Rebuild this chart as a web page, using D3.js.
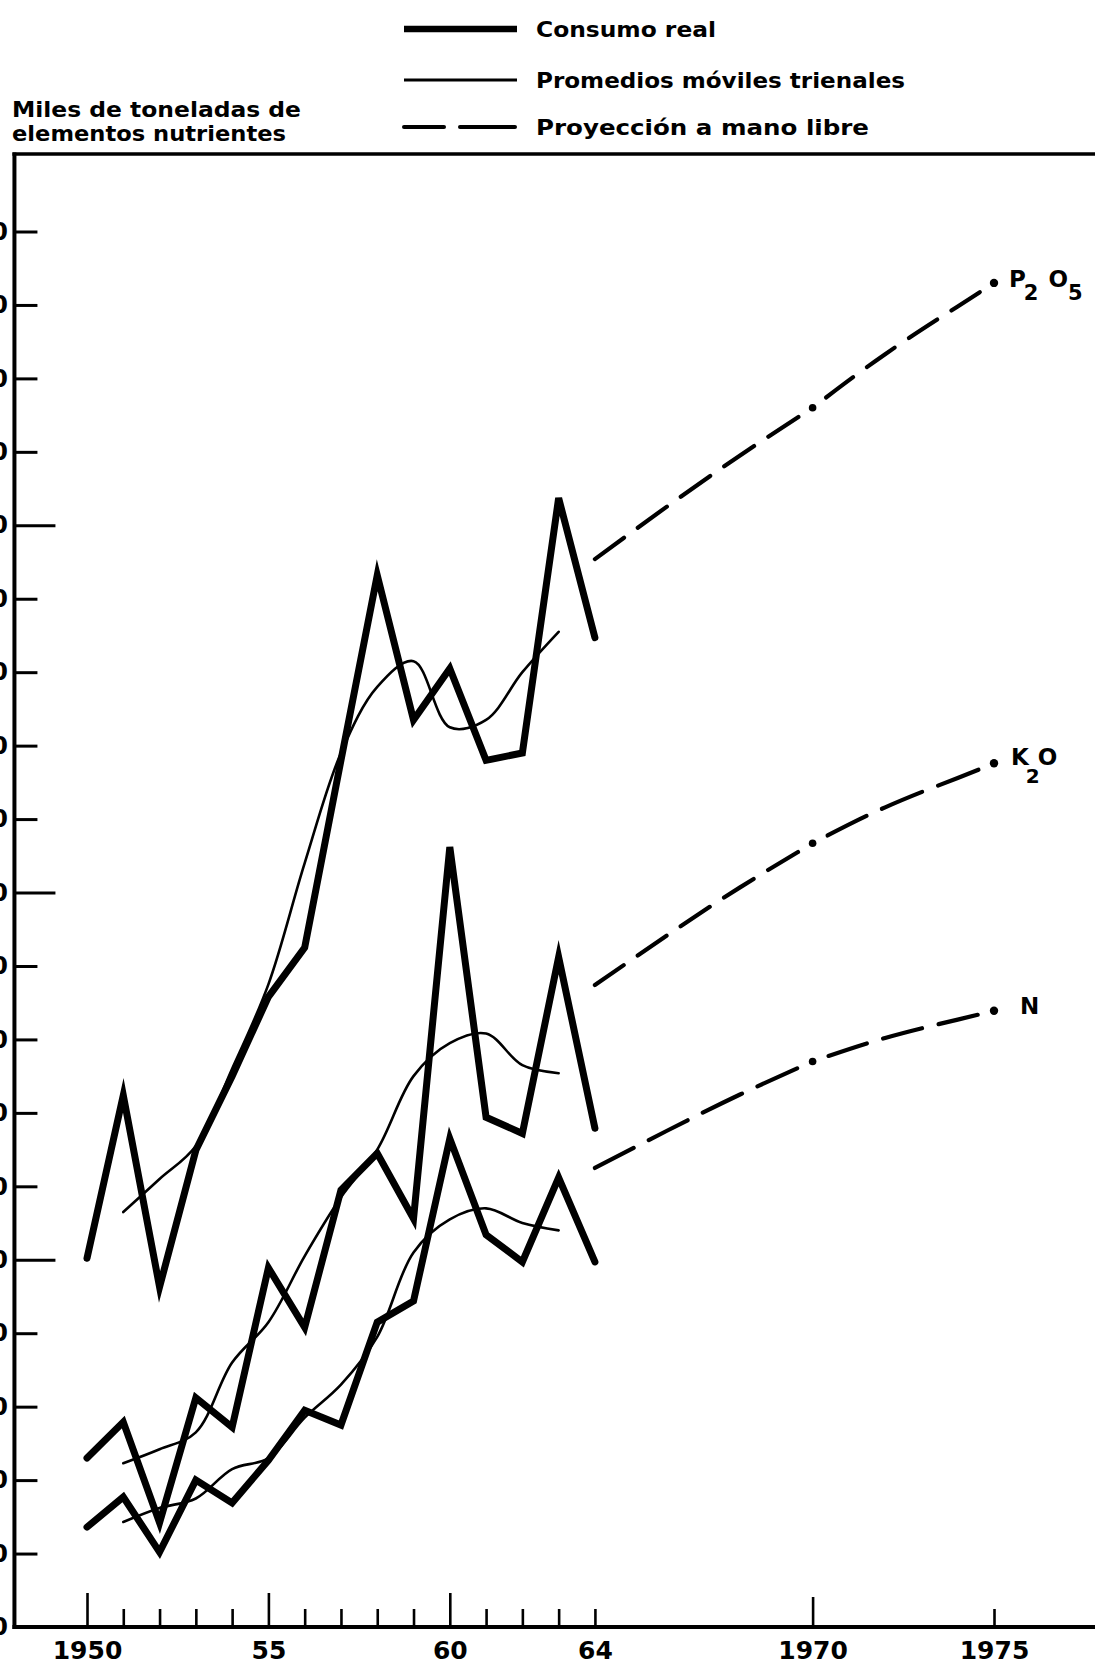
<!DOCTYPE html>
<html>
<head>
<meta charset="utf-8">
<script src="https://cdn.jsdelivr.net/npm/d3@7/dist/d3.min.js"></script>
<style>
  html, body { margin: 0; padding: 0; background: #fff; }
  svg { display: block; }
  text { font-family: "DejaVu Sans", "Liberation Sans", sans-serif; font-weight: bold; fill: #000; }
</style>
</head>
<body>
<svg id="chart" width="1095" height="1665"></svg>
<script>
// ---------------- data ----------------
const years = [1950, 1951, 1952, 1953, 1954, 1955, 1956, 1957, 1958, 1959, 1960, 1961, 1962, 1963, 1964];
const p2o5Real = [50.2, 72.4, 46.3, 64.9, 75.0, 85.8, 92.5, 118.0, 143.2, 123.5, 130.5, 118.0, 119.0, 153.7, 134.7];
const k2oReal  = [23.0, 27.9, 14.2, 31.2, 27.2, 48.9, 40.8, 59.5, 64.5, 55.6, 106.2, 69.4, 67.2, 91.2, 67.9];
const nReal    = [13.6, 17.7, 10.2, 20.0, 16.9, 22.7, 29.5, 27.5, 41.5, 44.4, 66.5, 53.4, 49.7, 61.2, 49.7];

const avgYears = [1951, 1952, 1953, 1954, 1955, 1956, 1957, 1958, 1959, 1960, 1961, 1962, 1963];
const p2o5Avg = [56.5, 61.0, 65.5, 76.0, 87.5, 104.0, 119.0, 128.0, 131.5, 122.5, 123.5, 130.0, 135.5];
const k2oAvg  = [22.3, 24.2, 26.5, 36.0, 41.5, 50.5, 58.5, 65.0, 75.0, 79.5, 80.8, 76.5, 75.4];
const nAvg    = [14.3, 16.2, 17.5, 21.5, 23.0, 28.5, 33.0, 39.5, 51.0, 55.5, 57.0, 55.0, 54.0];

const projYears = [1964, 1966, 1968, 1970, 1972, 1974, 1975];
const p2o5Proj = [145.4, 152.6, 159.5, 166.0, 173.3, 179.8, 183.0];
const k2oProj  = [87.4, 94.2, 100.7, 106.7, 111.6, 115.6, 117.6];
const nProj    = [62.5, 67.6, 72.5, 77.0, 80.2, 82.7, 83.9];
const projMarkYears = [1970, 1975];

const yTickValues = [0, 10, 20, 30, 40, 50, 60, 70, 80, 90, 100, 110, 120, 130, 140, 150, 160, 170, 180, 190];
const yMajorTicks = [50, 100, 150];
const xTickYears = [1950, 1951, 1952, 1953, 1954, 1955, 1956, 1957, 1958, 1959, 1960, 1961, 1962, 1963, 1964, 1970, 1975];
const xMajorTicks = [1950, 1955, 1960, 1970];
const xLabelYears = [1950, 1955, 1960, 1964, 1970, 1975];
const xLabels = ["1950", "55", "60", "64", "1970", "1975"];

const legendLabels = ["Consumo real", "Promedios móviles trienales", "Proyección a mano libre"];
const axisTitle = ["Miles de toneladas de", "elementos nutrientes"];

// ---------------- scales ----------------
const svg = d3.select("#chart");
const x = d3.scaleLinear().domain([1950, 1975]).range([87, 994]);
const y = d3.scaleLinear().domain([0, 190]).range([1627, 231.5]);
const xLeft = x(1948), xRight = 1095;
const yBottom = y(0), yTop = y(200) - 4;

// ---------------- frame ----------------
svg.append("line").attr("x1", xLeft).attr("x2", xLeft).attr("y1", yTop - 1.5).attr("y2", yBottom + 2)
  .attr("stroke", "#000").attr("stroke-width", 4);
svg.append("line").attr("x1", xLeft - 2).attr("x2", xRight).attr("y1", yBottom).attr("y2", yBottom)
  .attr("stroke", "#000").attr("stroke-width", 4);
svg.append("line").attr("x1", xLeft - 2).attr("x2", xRight).attr("y1", yTop).attr("y2", yTop)
  .attr("stroke", "#000").attr("stroke-width", 3.5);

// ---------------- y axis (labels partly beyond the left edge, as in the source) ----------------
const yAxis = svg.append("g").attr("transform", `translate(${xLeft},0)`)
  .call(d3.axisLeft(y).tickValues(yTickValues).tickSizeInner(-23).tickSizeOuter(0).tickPadding(6.5));
yAxis.select(".domain").remove();
yAxis.selectAll(".tick line").attr("stroke", "#000").attr("stroke-width", 3)
  .attr("x2", d => yMajorTicks.includes(d) ? 41 : 23);
yAxis.selectAll(".tick text").style("font-size", "24px").style("font-family", "DejaVu Sans, sans-serif")
  .style("font-weight", "bold");

// ---------------- x axis ----------------
const xAxis = svg.append("g").attr("transform", `translate(0,${yBottom})`)
  .call(d3.axisBottom(x).tickValues(xTickYears).tickSizeInner(-18).tickSizeOuter(0).tickFormat(""));
xAxis.select(".domain").remove();
xAxis.selectAll(".tick line").attr("stroke", "#000").attr("stroke-width", 2.6)
  .attr("y2", d => d === 1970 ? -30 : (xMajorTicks.includes(d) ? -34 : -18));

const xLab = svg.append("g").attr("transform", `translate(0,${yBottom})`)
  .call(d3.axisBottom(x).tickValues(xLabelYears).tickFormat((d, i) => xLabels[i]).tickSize(0).tickPadding(14));
xLab.select(".domain").remove();
xLab.selectAll(".tick text").style("font-size", "25px").style("font-family", "DejaVu Sans, sans-serif")
  .style("font-weight", "bold");

// ---------------- series ----------------
const series = [
  { real: p2o5Real, avg: p2o5Avg, proj: p2o5Proj },
  { real: k2oReal,  avg: k2oAvg,  proj: k2oProj },
  { real: nReal,    avg: nAvg,    proj: nProj }
];

const realLine = d3.line().x((d, i) => x(years[i])).y(d => y(d)).curve(d3.curveLinear);
const avgLine = d3.line().x((d, i) => x(avgYears[i])).y(d => y(d)).curve(d3.curveCatmullRom.alpha(0.5));
const projLine = d3.line().x(d => x(d[0])).y(d => y(d[1])).curve(d3.curveNatural);

const DASH = 37, GAP = 17;
function dashSegment(path, startWithGap) {
  const L = path.node().getTotalLength();
  if (!startWithGap) {
    const n = Math.max(1, Math.round(L / (DASH + GAP)));
    const d = L / n - GAP;
    path.attr("stroke-dasharray", `${d} ${GAP}`).attr("stroke-dashoffset", 0);
  } else {
    const n = Math.max(1, Math.round((L - GAP) / (DASH + GAP)));
    const d = (L - (n + 1) * GAP) / n;
    path.attr("stroke-dasharray", `${d} ${GAP}`).attr("stroke-dashoffset", d);
  }
}

series.forEach(s => {
  svg.append("path").attr("d", avgLine(s.avg)).attr("fill", "none")
    .attr("stroke", "#000").attr("stroke-width", 2.6).attr("stroke-linecap", "round");
  svg.append("path").attr("d", realLine(s.real)).attr("fill", "none")
    .attr("stroke", "#000").attr("stroke-width", 7).attr("stroke-linejoin", "miter")
    .attr("stroke-miterlimit", 5).attr("stroke-linecap", "round");

  const pts = projYears.map((yr, i) => [yr, s.proj[i]]);
  const split = projYears.indexOf(projMarkYears[0]);
  const seg1 = pts.slice(0, split + 1);
  const seg2 = pts.slice(split);
  const p1 = svg.append("path").attr("d", projLine(seg1)).attr("fill", "none")
    .attr("stroke", "#000").attr("stroke-width", 4.2).attr("stroke-linecap", "round");
  dashSegment(p1, false);
  const p2 = svg.append("path").attr("d", projLine(seg2)).attr("fill", "none")
    .attr("stroke", "#000").attr("stroke-width", 4.2).attr("stroke-linecap", "round");
  dashSegment(p2, true);

  svg.selectAll(null).data(projMarkYears).enter().append("circle")
    .attr("cx", d => x(d))
    .attr("cy", d => y(s.proj[projYears.indexOf(d)]))
    .attr("r", d => d === 1975 ? 4.2 : 3.8)
    .attr("fill", "#000");
});

// ---------------- series labels ----------------
const lblP = svg.append("text").attr("x", 1009).attr("y", 287).style("font-size", "23px");
lblP.append("tspan").text("P");
lblP.append("tspan").attr("dy", 13).attr("dx", -2).style("font-size", "21px").text("2");
lblP.append("tspan").attr("dy", -13).attr("dx", 10).text("O");
lblP.append("tspan").attr("dy", 13).attr("dx", 0).style("font-size", "21px").text("5");

const lblK = svg.append("text").attr("x", 1011).attr("y", 765).style("font-size", "23px");
lblK.append("tspan").text("K");
lblK.append("tspan").attr("dy", 18).attr("dx", -3).style("font-size", "20px").text("2");
lblK.append("tspan").attr("dy", -18).attr("dx", -2).text("O");

svg.append("text").attr("x", 1020).attr("y", 1014).style("font-size", "23px").text("N");

// ---------------- legend ----------------
const legendY = [29, 80, 127];
const legendBase = [37, 88, 135];
const legendW = [180, 369, 333];
svg.append("line").attr("x1", 404).attr("x2", 517).attr("y1", legendY[0]).attr("y2", legendY[0])
  .attr("stroke", "#000").attr("stroke-width", 6.5);
svg.append("line").attr("x1", 404).attr("x2", 517).attr("y1", legendY[1]).attr("y2", legendY[1])
  .attr("stroke", "#000").attr("stroke-width", 3.2);
svg.append("line").attr("x1", 404).attr("x2", 444).attr("y1", legendY[2]).attr("y2", legendY[2])
  .attr("stroke", "#000").attr("stroke-width", 4).attr("stroke-linecap", "round");
svg.append("line").attr("x1", 460).attr("x2", 515).attr("y1", legendY[2]).attr("y2", legendY[2])
  .attr("stroke", "#000").attr("stroke-width", 4).attr("stroke-linecap", "round");
legendLabels.forEach((t, i) => {
  svg.append("text").attr("x", 536).attr("y", legendBase[i]).style("font-size", "21px")
    .attr("textLength", legendW[i]).attr("lengthAdjust", "spacingAndGlyphs").text(t);
});

// ---------------- axis title ----------------
const titleBase = [117, 141];
const titleW = [289, 274];
axisTitle.forEach((t, i) => {
  svg.append("text").attr("x", 12).attr("y", titleBase[i]).style("font-size", "22px")
    .attr("textLength", titleW[i]).attr("lengthAdjust", "spacingAndGlyphs").text(t);
});
</script>
</body>
</html>
